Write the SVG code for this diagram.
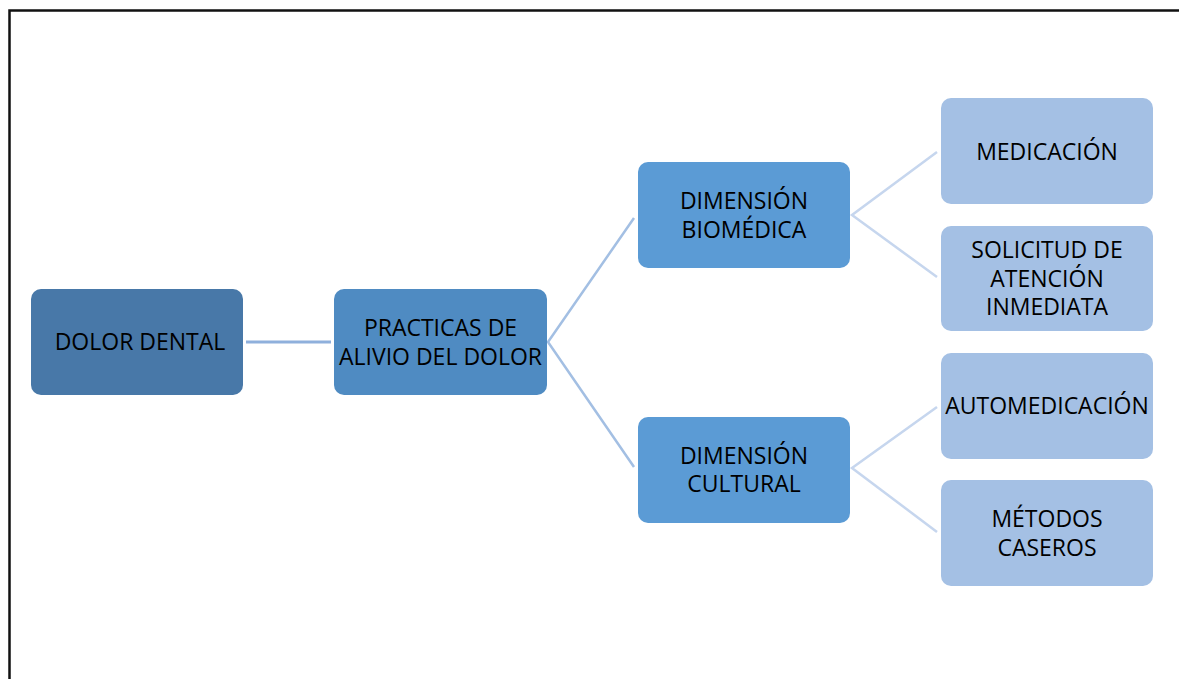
<svg xmlns="http://www.w3.org/2000/svg" width="1179" height="679" viewBox="0 0 1179 679">
<style>
.t{font-family:"Open Sans","Noto Sans","DejaVu Sans",sans-serif;font-size:23px;fill:#000;text-anchor:middle}
.c1{fill:#4878a8}
.c2{fill:#4f8bc2}
.c3{fill:#5b9bd5}
.c4{fill:#a4c0e4}
.frame{stroke:#111;stroke-width:2.5;fill:none}
.l1{stroke:#8fb0dc;stroke-width:3;fill:none}
.l2{stroke:#a3bfe3;stroke-width:2.5;fill:none}
.l3{stroke:#c6d6ee;stroke-width:2.5;fill:none}
</style>
<rect width="1179" height="679" fill="#fff"/>
<path class="frame" d="M9.5,679 V10.5 H1179"/>
<g id="connectors">
<line class="l1" x1="246" y1="342" x2="331" y2="342"/>
<polyline class="l2" points="634,218 548,342 634,467"/>
<polyline class="l3" points="937,152 852,215 937,277"/>
<polyline class="l3" points="937,407 852,468 937,532"/>
</g>
<g id="n-dolor">
<rect class="c1" x="31" y="289" width="212" height="106" rx="10"/>
<text class="t" x="140" y="350">DOLOR DENTAL</text>
</g>
<g id="n-practicas">
<rect class="c2" x="334" y="289" width="213" height="106" rx="10"/>
<text class="t" x="440.5" y="336">PRACTICAS DE</text>
<text class="t" x="440.5" y="364.5">ALIVIO DEL DOLOR</text>
</g>
<g id="n-biomedica">
<rect class="c3" x="638" y="162" width="212" height="106" rx="10"/>
<text class="t" x="744" y="209">DIMENSIÓN</text>
<text class="t" x="744" y="237.5">BIOMÉDICA</text>
</g>
<g id="n-cultural">
<rect class="c3" x="638" y="417" width="212" height="106" rx="10"/>
<text class="t" x="744" y="463.5">DIMENSIÓN</text>
<text class="t" x="744" y="492">CULTURAL</text>
</g>
<g id="n-medicacion">
<rect class="c4" x="941" y="98" width="212" height="106" rx="10"/>
<text class="t" x="1047" y="159.5">MEDICACIÓN</text>
</g>
<g id="n-solicitud">
<rect class="c4" x="941" y="226" width="212" height="105" rx="10"/>
<text class="t" x="1047" y="258">SOLICITUD DE</text>
<text class="t" x="1047" y="286.5">ATENCIÓN</text>
<text class="t" x="1047" y="315">INMEDIATA</text>
</g>
<g id="n-automedicacion">
<rect class="c4" x="941" y="353" width="212" height="106" rx="10"/>
<text class="t" x="1047" y="414">AUTOMEDICACIÓN</text>
</g>
<g id="n-metodos">
<rect class="c4" x="941" y="480" width="212" height="106" rx="10"/>
<text class="t" x="1047" y="527">MÉTODOS</text>
<text class="t" x="1047" y="555.5">CASEROS</text>
</g>
</svg>
